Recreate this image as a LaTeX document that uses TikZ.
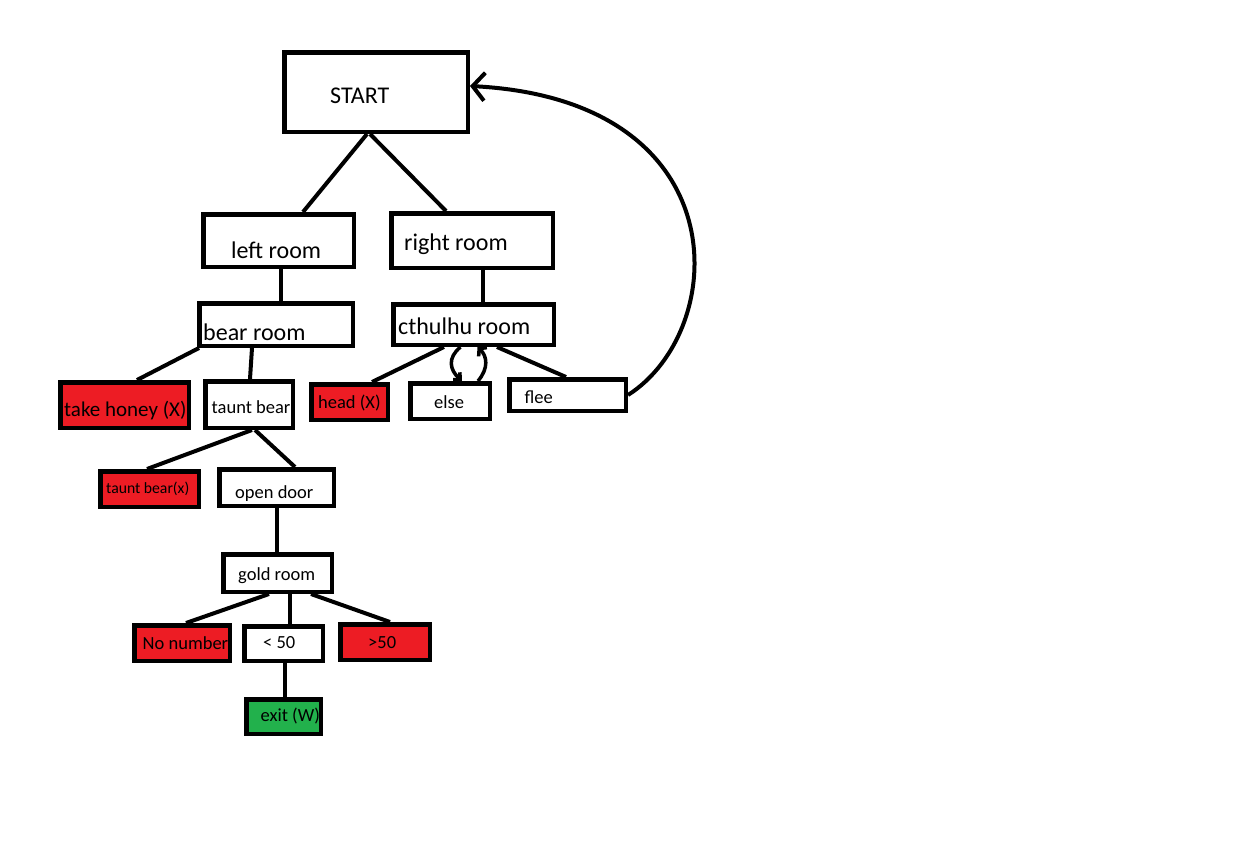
\documentclass[tikz,border=0pt]{standalone}
\usepackage{fontspec}
\setmainfont{Carlito}
\usetikzlibrary{arrows.meta}
\definecolor{pred}{HTML}{ED1C24}
\definecolor{pgreen}{HTML}{22B14C}
\tikzset{
  box/.style={draw=black, line width=4.5pt, rectangle, inner sep=0pt, fill=white},
  redbox/.style={box, fill=pred},
  greenbox/.style={box, fill=pgreen},
  lbl/.style={inner sep=0pt, anchor=base west, text=black},
  big/.style={lbl, font=\fontsize{24}{28}\selectfont},
  mid/.style={lbl, font=\fontsize{21}{25}\selectfont},
  small/.style={lbl, font=\fontsize{18.5}{22}\selectfont},
  tiny/.style={lbl, font=\fontsize{15.7}{19}\selectfont},
  conn/.style={line width=4pt, black},
}
\begin{document}
\begin{tikzpicture}[x=1pt,y=-1pt]
\useasboundingbox[fill=white] (0,0) rectangle (1237,844);
% boxes
\node[box, minimum width=183.5pt, minimum height=79.5pt] (start) at (376,92) {};
\node[box, minimum width=150.5pt, minimum height=52.5pt] (left) at (278.5,240.5) {};
\node[box, minimum width=161.5pt, minimum height=54.5pt] (right) at (472,240.5) {};
\node[box, minimum width=153.5pt, minimum height=42.5pt] (bear) at (276,324.5) {};
\node[box, minimum width=160.5pt, minimum height=40.5pt] (cthulhu) at (473.5,324.5) {};
\node[redbox, minimum width=128.5pt, minimum height=45.5pt] (honey) at (124.5,405) {};
\node[box, minimum width=87.5pt, minimum height=46.5pt] (taunt) at (249,404.5) {};
\node[redbox, minimum width=76.5pt, minimum height=35.5pt] (head) at (349.5,402) {};
\node[box, minimum width=79.5pt, minimum height=35.5pt] (else) at (450,401) {};
\node[box, minimum width=116.5pt, minimum height=31.5pt] (flee) at (567.5,395) {};
\node[redbox, minimum width=98.5pt, minimum height=35.5pt] (tauntx) at (149.5,489) {};
\node[box, minimum width=114.5pt, minimum height=36.5pt] (open) at (276.5,487.5) {};
\node[box, minimum width=108.5pt, minimum height=37.5pt] (gold) at (277.5,573) {};
\node[redbox, minimum width=95.5pt, minimum height=35.5pt] (nonum) at (182,643) {};
\node[box, minimum width=78.5pt, minimum height=34.5pt] (lt) at (283.5,643.5) {};
\node[redbox, minimum width=89.5pt, minimum height=35.5pt] (gt) at (385,642) {};
\node[greenbox, minimum width=74.5pt, minimum height=34.5pt] (exit) at (283.5,716.5) {};
% labels
\node[big] (start-t) at (330,103.5) {START};
\node[big] (left-t) at (231,258.5) {left room};
\node[big] (right-t) at (404,250.5) {right room};
\node[big] (bear-t) at (203,340.5) {bear room};
\node[big] (cthulhu-t) at (398,334.5) {cthulhu room};
\node[mid] (honey-t) at (64,416.5) {take honey (X)};
\node[small] (taunt-t) at (211.5,413) {taunt bear};
\node[small] (head-t) at (318,408.5) {head (X)};
\node[small] (else-t) at (434,408) {else};
\node[small] (flee-t) at (524.5,403.5) {flee};
\node[tiny] (tauntx-t) at (106,493.5) {taunt bear(x)};
\node[small] (open-t) at (235,498) {open door};
\node[small] (gold-t) at (238,580) {gold room};
\node[small] (nonum-t) at (142.5,649.5) {No number};
\node[small] (lt-t) at (263,648.5) {< 50};
\node[small] (gt-t) at (368,648.5) {>50};
\node[small] (exit-t) at (260.5,721.5) {exit (W)};
% connectors
\draw[conn] ([xshift=-9pt]start.south) -- ([xshift=24.5pt]left.north);
\draw[conn] ([xshift=-6pt]start.south) -- ([xshift=-26pt]right.north);
\draw[conn] ([xshift=2.5pt]left.south) -- ([xshift=5pt]bear.north);
\draw[conn] ([xshift=11pt]right.south) -- ([xshift=9.5pt]cthulhu.north);
\draw[conn] ([xshift=-77pt]bear.south) -- ([xshift=12.5pt]honey.north);
\draw[conn] ([xshift=-24pt]bear.south) -- ([xshift=1pt]taunt.north);
\draw[conn] ([xshift=3pt]taunt.south) -- ([xshift=-2.5pt]tauntx.north);
\draw[conn] ([xshift=6pt]taunt.south) -- ([xshift=18.5pt]open.north);
\draw[conn] ([xshift=0.5pt]open.south) -- ([xshift=-0.5pt]gold.north);
\draw[conn] ([xshift=-8.5pt]gold.south) -- ([xshift=4pt]nonum.north);
\draw[conn] ([xshift=12.5pt]gold.south) -- ([xshift=6.5pt]lt.north);
\draw[conn] ([xshift=33.5pt]gold.south) -- ([xshift=5pt]gt.north);
\draw[conn] ([xshift=1.5pt]lt.south) -- ([xshift=1.5pt]exit.north);
\draw[conn] ([xshift=-29.5pt]cthulhu.south) -- ([xshift=22.5pt]head.north);
\draw[conn] ([xshift=23.5pt]cthulhu.south) -- ([xshift=-1.5pt]flee.north);
% loops between cthulhu room and else
\draw[conn, line width=3.5pt, -{Straight Barb[length=5pt,width=10pt]}]
  ([xshift=-13pt]cthulhu.south) .. controls (447,358) and (450,370) .. ([xshift=12pt]else.north);
\draw[conn, line width=3.5pt, -{Straight Barb[length=5pt,width=12pt]}]
  ([xshift=28pt]else.north) .. controls (489,368) and (487,356) .. ([xshift=4pt]cthulhu.south);
% flee back to start
\draw[conn, -{Straight Barb[length=12pt,width=28pt]}]
  (flee.east) .. controls (730,330) and (740,100) .. ([yshift=6pt]start.east);
\end{tikzpicture}
\end{document}
